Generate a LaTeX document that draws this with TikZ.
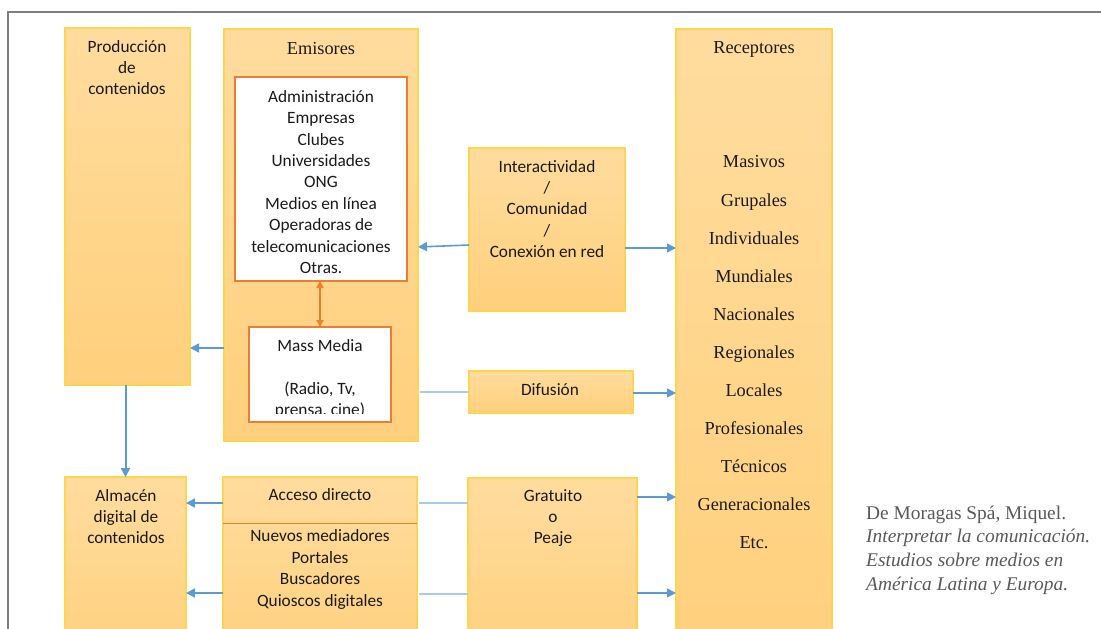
\documentclass[tikz,border=0pt]{standalone}
\usepackage{fontspec}
\setmainfont{Carlito}
\newfontfamily\serifface{Liberation Serif}
\usetikzlibrary{arrows.meta,calc}

\definecolor{boxtop}{HTML}{FFDC9E}
\definecolor{boxbot}{HTML}{FFD07C}
\definecolor{boxline}{HTML}{FFD54F}
\definecolor{accent}{HTML}{ED7D31}
\definecolor{link}{HTML}{5B9BD5}
\definecolor{linkpale}{HTML}{A9CBEA}
\definecolor{framegray}{HTML}{7F7F7F}
\definecolor{citegray}{HTML}{595959}
\definecolor{ink}{HTML}{1A1A1A}

\tikzset{
  panel/.style={draw=boxline, line width=1.2pt, top color=boxtop, bottom color=boxbot,
    inner sep=0pt, outer sep=0pt, anchor=north west},
  whitebox/.style={draw=accent, line width=1.6pt, fill=white, inner sep=0pt,
    outer sep=0pt, anchor=north west},
  label/.style={align=center, inner sep=0pt, text=ink,
    font=\fontsize{17.3}{21.4}\selectfont},
  seriflabel/.style={align=center, inner sep=0pt, text=ink,
    font=\serifface\fontsize{18.3}{38.1}\selectfont},
  flow/.style={draw=link, line width=1.6pt, -{Triangle[length=9pt,width=9pt]}},
  pale/.style={draw=linkpale, line width=1.5pt},
  twoway/.style={draw=accent, line width=1.5pt,
    {Triangle[length=7pt,width=7pt]}-{Triangle[length=7pt,width=7pt]}},
}

\begin{document}
\begin{tikzpicture}[x=1pt,y=-1pt]
\useasboundingbox (0,0) rectangle (1101,629);
\clip (0,0) rectangle (1101,629);

% outer frame
\draw[framegray, line width=2pt] (1101,11.5) -- (8,11.5) -- (8,629);

% columns and blocks
\node[panel, minimum width=125pt, minimum height=357pt] (prod) at (65,28) {};
\node[panel, minimum width=194pt, minimum height=412pt] (emis) at (224,29) {};
\node[whitebox, minimum width=172pt, minimum height=204pt] (admin) at (235,77) {};
\node[whitebox, minimum width=142pt, minimum height=95pt] (mass) at (249,327) {};
\node[panel, minimum width=156pt, minimum height=163pt] (inter) at (469,148) {};
\node[panel, minimum width=164pt, minimum height=42pt] (dif) at (469,371) {};
\node[panel, minimum width=156pt, minimum height=640pt] (rec) at (676,29) {};
\node[panel, minimum width=121pt, minimum height=190pt] (alm) at (65,477) {};
\node[panel, minimum width=194pt, minimum height=190pt] (acc) at (223,477) {};
\node[panel, minimum width=169pt, minimum height=190pt] (grat) at (468,478) {};

% divider inside the direct access block
\draw[accent, line width=1pt] ($(acc.north west)+(0,46)$) -- ($(acc.north east)+(0,46)$);

% texts
\node[label] (prodtxt) at (127,67.5) {Producción\\de\\contenidos};
\node[label, font=\serifface\fontsize{18.3}{21.4}\selectfont] (emistxt) at (321,49) {Emisores};
\node[label] (admintxt) at (321,182) {Administración\\Empresas\\Clubes\\Universidades\\ONG\\Medios en línea\\Operadoras de\\telecomunicaciones\\Otras.};
\begin{scope}
  % the text frame cuts off the last line
  \clip ($(mass.north west)+(1,1)$) rectangle ($(mass.south east)+(-1,-9)$);
  \node[label] (masstxt) at (320,379) {Mass Media\\[21.4pt](Radio, Tv,\\prensa, cine)};
\end{scope}
\node[label] (intertxt) at (547,209) {Interactividad\\/\\Comunidad\\/\\Conexión en red};
\node[label] (diftxt) at (550,390) {Difusión};
\node[label, font=\serifface\fontsize{18.3}{21.4}\selectfont] (rectxt) at (754,49) {Receptores};
\node[seriflabel] (reclist) at (754,352.5) {Masivos\\Grupales\\Individuales\\Mundiales\\Nacionales\\Regionales\\Locales\\Profesionales\\Técnicos\\Generacionales\\Etc.};
\node[label] (almtxt) at (126,516.5) {Almacén\\digital de\\contenidos};
\node[label] (acctxt) at (320,495) {Acceso directo};
\node[label] (acclist) at (320,569.5) {Nuevos mediadores\\Portales\\Buscadores\\Quioscos digitales};
\node[label] (grattxt) at (553,518) {Gratuito\\o\\Peaje};

% source note
\node[anchor=west, align=left, inner sep=0pt, text=citegray,
  font=\serifface\fontsize{19.4}{23.7}\selectfont] (src) at (866,550)
  {De Moragas Spá, Miquel.\\\textit{Interpretar la comunicación.}\\\textit{Estudios sobre medios en}\\\textit{América Latina y Europa.}};

% connectors
\draw[twoway] (mass.north) -- (mass.north |- admin.south);

\draw[flow] ($(inter.west)+(0,15.5)$) -- ($(emis.east)+(0,12)$);
\coordinate (p1) at ($(inter.east)+(0,18.5)$);
\draw[flow] (p1) -- (p1 -| rec.west);

\coordinate (p2) at ($(emis.west)+(0,113)$);
\draw[flow] (p2) -- (p2 -| prod.east);

\coordinate (p3) at (dif.west -| emis.east);
\draw[pale] ($(p3)+(2,0)$) -- (dif.west);
\coordinate (p4) at ($(dif.east)+(0,1)$);
\draw[flow] (p4) -- (p4 -| rec.west);

\draw[flow, line width=2pt] (alm.north |- prod.south) -- (alm.north);

\coordinate (p5) at ($(acc.north west)+(0,26)$);
\draw[flow] (p5) -- (p5 -| alm.east);
\coordinate (p6) at ($(acc.north west)+(0,116)$);
\draw[flow] (p6) -- (p6 -| alm.east);

\coordinate (p7) at ($(acc.north east)+(2,26)$);
\draw[pale] (p7) -- (p7 -| grat.west);
\coordinate (p8) at ($(acc.north east)+(2,117)$);
\draw[pale] (p8) -- (p8 -| grat.west);

\coordinate (p9) at ($(grat.north east)+(0,19)$);
\draw[flow] (p9) -- (p9 -| rec.west);
\coordinate (p10) at ($(grat.north east)+(0,115)$);
\draw[flow] (p10) -- (p10 -| rec.west);
\end{tikzpicture}
\end{document}
